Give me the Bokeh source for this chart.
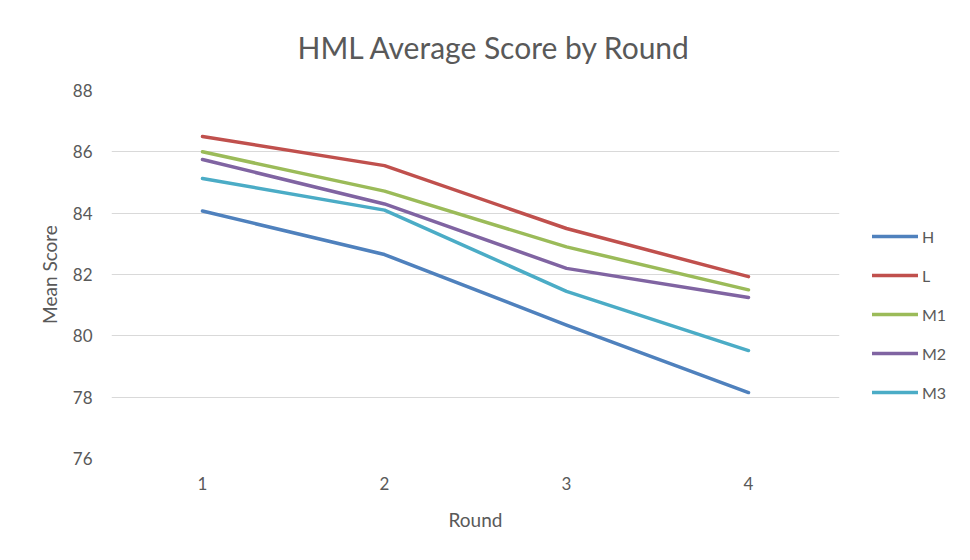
from bokeh.plotting import figure
from bokeh.models import Range1d, FactorRange, Legend, LegendItem
from bokeh.embed import file_html
from bokeh.resources import INLINE

rounds = ["1", "2", "3", "4"]
series_names = ["H", "L", "M1", "M2", "M3"]
H = [84.07, 82.65, 80.35, 78.15]
L = [86.50, 85.55, 83.50, 81.93]
M1 = [86.00, 84.72, 82.90, 81.50]
M2 = [85.75, 84.30, 82.20, 81.25]
M3 = [85.13, 84.10, 81.45, 79.52]
colors = ["#4F81BD", "#C0504D", "#9BBB59", "#8064A2", "#4BACC6"]
yticks = [76, 78, 80, 82, 84, 86, 88]

FONT = "Lato"
GRAY = "#595959"

p = figure(frame_width=728, frame_height=368, output_backend="svg", toolbar_location=None,
           x_range=FactorRange(*rounds, range_padding=0), y_range=Range1d(76, 88),
           min_border_left=111, min_border_right=20, min_border_top=90, min_border_bottom=102,
           title="HML Average Score by Round")
p.outline_line_color = None
p.background_fill_color = "white"
p.border_fill_color = "white"

p.title.align = "left"
p.title.text_font = FONT
p.title.text_font_size = "30px"
p.title.text_font_style = "normal"
p.title.text_color = GRAY
p.title.offset = 186
p.title.standoff = 51

for ax in (p.xaxis[0], p.yaxis[0]):
    ax.axis_line_color = None
    ax.major_tick_line_color = None
    ax.minor_tick_line_color = None
    ax.major_tick_out = 0
    ax.major_tick_in = 0
    ax.major_label_text_font = FONT
    ax.major_label_text_font_size = "17px"
    ax.major_label_text_color = GRAY
    ax.axis_label_text_font = FONT
    ax.axis_label_text_font_size = "19px"
    ax.axis_label_text_font_style = "normal"
    ax.axis_label_text_color = GRAY

p.xaxis.axis_label = "Round"
p.xaxis.major_label_standoff = 18
p.xaxis.axis_label_standoff = 15
p.yaxis.axis_label = "Mean Score"
p.yaxis.major_label_standoff = 19
p.yaxis.axis_label_standoff = 9
p.yaxis.ticker = yticks

p.xgrid.grid_line_color = None
p.ygrid.grid_line_color = "#d9d9d9"
p.ygrid.grid_line_width = 1

items = []
for name, vals, c in zip(series_names, [H, L, M1, M2, M3], colors):
    r = p.line(rounds, vals, line_color=c, line_width=3.5, line_cap="round", line_join="round")
    items.append(LegendItem(label=name, renderers=[r]))

legend = Legend(items=items, location=(33, 56), orientation="vertical",
                glyph_width=46, glyph_height=20, spacing=19, padding=0, margin=0,
                label_standoff=4, border_line_color=None, background_fill_alpha=0,
                label_text_font=FONT, label_text_font_size="16px", label_text_color=GRAY)
p.add_layout(legend, "right")

open("out.html", "w").write(file_html(p, INLINE))
